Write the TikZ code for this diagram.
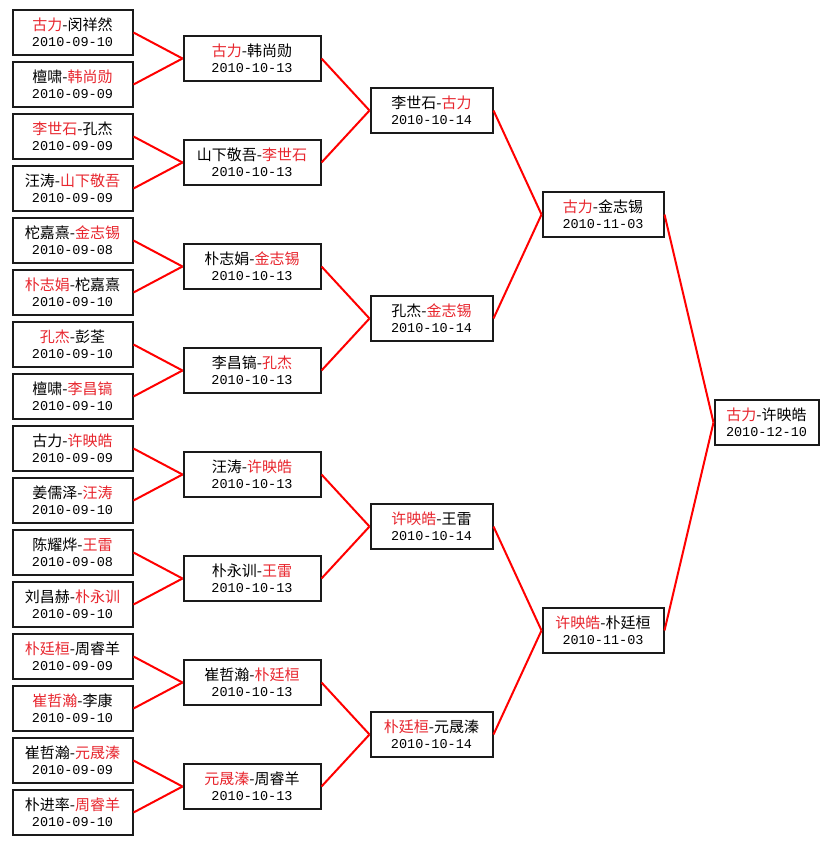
\documentclass[tikz,border=0pt]{standalone}
\usepackage{fontspec}
\setmainfont{Noto Sans CJK SC}
\newfontfamily\datefont{Liberation Mono}
\usepackage{tikz}
\usetikzlibrary{positioning}
\definecolor{winred}{HTML}{E8262E}
\definecolor{linkred}{HTML}{FF0000}
\definecolor{boxline}{HTML}{1A1A1A}
\newcommand{\win}[1]{\textcolor{winred}{#1}}
\newcommand{\when}[1]{{\datefont\fontsize{13.5}{16}\selectfont #1}}
\tikzset{
  game/.style={draw=boxline, line width=2pt, fill=white, minimum height=45pt,
               inner sep=1pt, align=center, font=\fontsize{15}{16}\selectfont,
               text=black},
  roundone/.style={game, minimum width=120pt},
  roundtwo/.style={game, minimum width=137pt},
  roundthree/.style={game, minimum width=122pt},
  roundfour/.style={game, minimum width=121pt},
  roundfive/.style={game, minimum width=104pt},
  rel/.style={linkred, line width=2pt},
}

\begin{document}
\begin{tikzpicture}[x=1pt, y=-1pt]

  \useasboundingbox (0,0) rectangle (831,845);

  % first round
  \node[roundone] (p1)  at (72.5, 32.5)  {\win{古力}-闵祥然\\ \when{2010-09-10}};
  \node[roundone] (p2)  at (72.5, 84.5)  {檀啸-\win{韩尚勋}\\ \when{2010-09-09}};
  \node[roundone] (p3)  at (72.5,136.5)  {\win{李世石}-孔杰\\ \when{2010-09-09}};
  \node[roundone] (p4)  at (72.5,188.5)  {汪涛-\win{山下敬吾}\\ \when{2010-09-09}};
  \node[roundone] (p5)  at (72.5,240.5)  {柁嘉熹-\win{金志锡}\\ \when{2010-09-08}};
  \node[roundone] (p6)  at (72.5,292.5)  {\win{朴志娟}-柁嘉熹\\ \when{2010-09-10}};
  \node[roundone] (p7)  at (72.5,344.5)  {\win{孔杰}-彭荃\\ \when{2010-09-10}};
  \node[roundone] (p8)  at (72.5,396.5)  {檀啸-\win{李昌镐}\\ \when{2010-09-10}};
  \node[roundone] (p9)  at (72.5,448.5)  {古力-\win{许映皓}\\ \when{2010-09-09}};
  \node[roundone] (p10) at (72.5,500.5)  {姜儒泽-\win{汪涛}\\ \when{2010-09-10}};
  \node[roundone] (p11) at (72.5,552.5)  {陈耀烨-\win{王雷}\\ \when{2010-09-08}};
  \node[roundone] (p12) at (72.5,604.5)  {刘昌赫-\win{朴永训}\\ \when{2010-09-10}};
  \node[roundone] (p13) at (72.5,656.5)  {\win{朴廷桓}-周睿羊\\ \when{2010-09-09}};
  \node[roundone] (p14) at (72.5,708.5)  {\win{崔哲瀚}-李康\\ \when{2010-09-10}};
  \node[roundone] (p15) at (72.5,760.5)  {崔哲瀚-\win{元晟溱}\\ \when{2010-09-09}};
  \node[roundone] (p16) at (72.5,812.5)  {朴进率-\win{周睿羊}\\ \when{2010-09-10}};

  % second round
  \node[roundtwo] (s1) at (252, 58.5) {\win{古力}-韩尚勋\\ \when{2010-10-13}};
  \node[roundtwo] (s2) at (252,162.5) {山下敬吾-\win{李世石}\\ \when{2010-10-13}};
  \node[roundtwo] (s3) at (252,266.5) {朴志娟-\win{金志锡}\\ \when{2010-10-13}};
  \node[roundtwo] (s4) at (252,370.5) {李昌镐-\win{孔杰}\\ \when{2010-10-13}};
  \node[roundtwo] (s5) at (252,474.5) {汪涛-\win{许映皓}\\ \when{2010-10-13}};
  \node[roundtwo] (s6) at (252,578.5) {朴永训-\win{王雷}\\ \when{2010-10-13}};
  \node[roundtwo] (s7) at (252,682.5) {崔哲瀚-\win{朴廷桓}\\ \when{2010-10-13}};
  \node[roundtwo] (s8) at (252,786.5) {\win{元晟溱}-周睿羊\\ \when{2010-10-13}};

  % quarter finals
  \node[roundthree] (q1) at (431.5,110.5) {李世石-\win{古力}\\ \when{2010-10-14}};
  \node[roundthree] (q2) at (431.5,318.5) {孔杰-\win{金志锡}\\ \when{2010-10-14}};
  \node[roundthree] (q3) at (431.5,526.5) {\win{许映皓}-王雷\\ \when{2010-10-14}};
  \node[roundthree] (q4) at (431.5,734.5) {\win{朴廷桓}-元晟溱\\ \when{2010-10-14}};

  % semi finals
  \node[roundfour] (h1) at (603,214.5) {\win{古力}-金志锡\\ \when{2010-11-03}};
  \node[roundfour] (h2) at (603,630.5) {\win{许映皓}-朴廷桓\\ \when{2010-11-03}};

  % final
  \node[roundfive] (fin) at (766.5,422.5) {\win{古力}-许映皓\\ \when{2010-12-10}};

  \foreach \a/\b in {p1/s1,p2/s1,p3/s2,p4/s2,p5/s3,p6/s3,p7/s4,p8/s4,
                     p9/s5,p10/s5,p11/s6,p12/s6,p13/s7,p14/s7,p15/s8,p16/s8,
                     s1/q1,s2/q1,s3/q2,s4/q2,s5/q3,s6/q3,s7/q4,s8/q4,
                     q1/h1,q2/h1,q3/h2,q4/h2,h1/fin,h2/fin}
    \draw[rel] (\a.east) -- (\b.west);

\end{tikzpicture}
\end{document}
